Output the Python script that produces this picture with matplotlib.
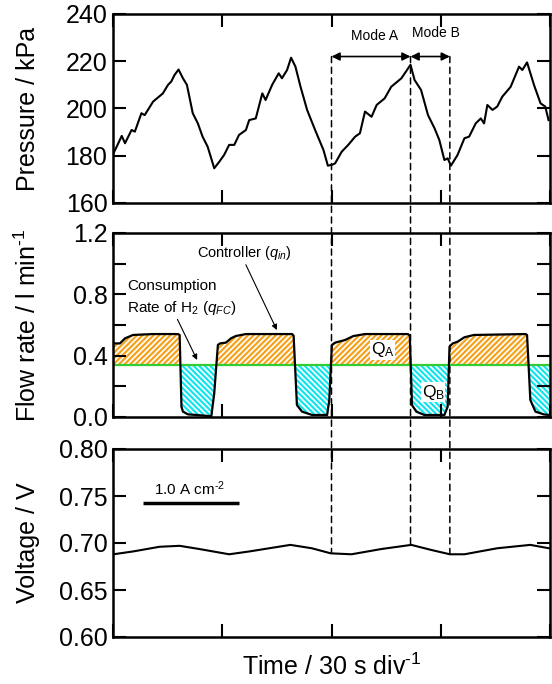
import numpy as np
import matplotlib.pyplot as plt
from matplotlib.patches import ConnectionPatch
from matplotlib.ticker import MultipleLocator, FormatStrFormatter

plt.rcParams['font.family'] = ['Liberation Sans', 'DejaVu Sans']
plt.rcParams['mathtext.fontset'] = 'custom'
plt.rcParams['mathtext.rm'] = 'Liberation Sans'
plt.rcParams['mathtext.it'] = 'Liberation Sans:italic'
plt.rcParams['hatch.linewidth'] = 1.6

# pressure (kPa) vs time (s)
t_pressure = [0.1, 1.0, 2.4, 3.3, 5.1, 6.0, 7.8, 8.7, 11.0, 13.7, 15.1, 16.0, 16.9, 18.0,
              19.2, 20.3, 21.9, 23.3, 24.6, 26.0, 27.8, 29.2, 30.5, 31.9, 33.3, 34.6,
              36.5, 37.4, 39.2, 41.0, 41.9, 43.7, 45.5, 46.4, 47.8, 48.9, 50.1, 51.5,
              53.3, 55.5, 57.8, 59.0, 60.2, 61.0, 62.8, 64.6, 66.5, 67.8, 69.2, 71.0,
              72.4, 74.6, 76.4, 79.2, 81.7, 82.8, 84.6, 86.5, 88.3, 89.6, 91.0, 91.9,
              92.8, 94.6, 96.5, 97.8, 99.6, 101.0, 101.9, 102.8, 104.2, 105.5, 106.9,
              109.2, 111.5, 112.4, 113.7, 115.6, 117.4, 118.7, 119.6]
pressure = [181, 183.8, 188.4, 185.3, 190.9, 190.2, 198, 197.2, 202.9, 206.4, 210, 211.4,
            214.2, 216.5, 212.8, 210, 198, 193.7, 188.1, 183.8, 174.7, 177.5, 180.3,
            184.6, 184.6, 188.8, 190.9, 195.1, 195.8, 206.4, 203.6, 210, 214.9, 212.8,
            216.3, 221.5, 217.7, 209.2, 199.4, 190.9, 182.4, 175.8, 176.2, 176.8, 181.7,
            184.6, 188.1, 189.5, 198.7, 196.5, 201.5, 204.3, 209.2, 212.8, 218.5, 212.1,
            207.8, 197.2, 191.6, 186.7, 178.2, 178.9, 175.8, 180.3, 187.4, 188.1, 193.7,
            195.8, 193.7, 201.5, 199.4, 200.8, 205, 209.2, 217.7, 216.3, 219.5, 210,
            202.2, 200.8, 195.1]

# controller flow rate q_in (l/min)
t_flow = [0.1, 1.9, 3.3, 5.5, 11, 17.8, 18.3, 18.8, 19.2, 20.6, 22.9, 27.0, 27.8, 28.8,
          29.4, 31.0, 32.4, 33.7, 36.5, 49.2, 49.6, 50.5, 51.9, 54.7, 58.8, 59.4, 60.1,
          61.0, 63.7, 66.0, 69.2, 81.0, 81.5, 82.1, 83.3, 85.5, 91.0, 91.9, 92.4, 93.3,
          94.6, 96.5, 99.1, 113.3, 113.7, 114.6, 116.0, 118.3, 119.7]
flow_in = [0.48, 0.48, 0.513, 0.535, 0.541, 0.541, 0.535, 0.067, 0.035, 0.017, 0.013,
           0.005, 0.154, 0.47, 0.48, 0.485, 0.513, 0.528, 0.541, 0.541, 0.53, 0.078,
           0.035, 0.013, 0.013, 0.111, 0.47, 0.485, 0.502, 0.528, 0.541, 0.541, 0.53,
           0.078, 0.035, 0.013, 0.013, 0.067, 0.459, 0.48, 0.491, 0.52, 0.535, 0.541,
           0.535, 0.111, 0.035, 0.017, 0.013]
q_fc = 0.339  # consumption rate of H2

# cell voltage (V)
t_volt = [0.1, 5.5, 12.8, 18.3, 23.7, 31.9, 37.4, 48.7, 54.6, 59.8, 65.5, 73.7, 81.9,
          87.4, 92.5, 96.5, 105.5, 114.6, 119.7]
voltage = [0.688, 0.691, 0.696, 0.697, 0.6936, 0.688, 0.691, 0.698, 0.6944, 0.689, 0.688,
           0.6936, 0.698, 0.6926, 0.688, 0.688, 0.6944, 0.698, 0.6944]

# mode boundaries (s)
mode_times = [60, 81.7, 92.5]

orange = '#F5A21E'
cyan = '#14E4EE'
green = '#33CC33'

fig = plt.figure(figsize=(5.52, 6.84), dpi=100)
W, H = 552, 684
def box(x0, y0, x1, y1):
    return [x0 / W, 1 - y1 / H, (x1 - x0) / W, (y1 - y0) / H]

ax1 = fig.add_axes(box(113, 14, 550, 203))
ax2 = fig.add_axes(box(113, 233, 550, 417))
ax3 = fig.add_axes(box(113, 449, 550, 637))

for ax in (ax1, ax2, ax3):
    ax.set_xlim(0, 120)
    ax.xaxis.set_major_locator(MultipleLocator(30))
    ax.tick_params(which='both', direction='in', top=True, right=True, length=9.5,
                   width=1.5, labelsize=18, pad=4, labelbottom=False)
    for s in ax.spines.values():
        s.set_linewidth(1.8)

# pressure
ax1.plot(t_pressure, pressure, color='black', lw=1.5)
ax1.set_ylim(160, 240)
ax1.yaxis.set_major_locator(MultipleLocator(20))

ax1.annotate('', xy=(mode_times[1], 222), xytext=(mode_times[0], 222),
             arrowprops=dict(arrowstyle='<|-|>', lw=1.2, color='black',
                             mutation_scale=12, shrinkA=0, shrinkB=0))
ax1.annotate('', xy=(mode_times[2], 222), xytext=(mode_times[1], 222),
             arrowprops=dict(arrowstyle='<|-|>', lw=1.2, color='black',
                             mutation_scale=12, shrinkA=0, shrinkB=0))
ax1.text(71.8, 230.5, 'Mode A', ha='center', va='center', fontsize=10)
ax1.text(88.8, 232, 'Mode B', ha='center', va='center', fontsize=10)

# flow rate
tf = np.array(t_flow)
qf = np.array(flow_in)
ax2.fill_between(tf, qf, q_fc, where=qf >= q_fc, interpolate=True,
                 facecolor='white', edgecolor=orange, hatch='//////', linewidth=0)
ax2.fill_between(tf, qf, q_fc, where=qf <= q_fc, interpolate=True,
                 facecolor='white', edgecolor=cyan, hatch='\\\\\\\\\\\\', linewidth=0)
ax2.axhline(q_fc, color=green, lw=1.6)
ax2.plot(tf, qf, color='black', lw=1.6)
ax2.set_ylim(0, 1.2)
ax2.yaxis.set_major_locator(MultipleLocator(0.4))
ax2.yaxis.set_minor_locator(MultipleLocator(0.2))
ax2.yaxis.set_major_formatter(FormatStrFormatter('%.1f'))

ax2.annotate('Controller ($q_{in}$)', xy=(45.0, 0.567), xytext=(23.1, 1.07),
             fontsize=10.5, ha='left', va='center',
             arrowprops=dict(arrowstyle='-|>', lw=0.8, color='black',
                             mutation_scale=8, shrinkA=0, shrinkB=0,
                             relpos=(0.5, 0)))
ax2.annotate('Consumption\nRate of H$_2$ ($q_{FC}$)', xy=(23.1, 0.372), xytext=(3.8, 0.776),
             fontsize=11, ha='left', va='center', linespacing=1.4,
             arrowprops=dict(arrowstyle='-|>', lw=0.8, color='black',
                             mutation_scale=8, shrinkA=0, shrinkB=0,
                             relpos=(0.45, 0)))
ax2.text(74.1, 0.437, 'Q$_\\mathregular{A}$', ha='center', va='center', fontsize=12.5,
         bbox=dict(facecolor='white', edgecolor='none', pad=0.5))
ax2.text(87.9, 0.163, 'Q$_\\mathregular{B}$', ha='center', va='center', fontsize=12.5,
         bbox=dict(facecolor='white', edgecolor='none', pad=0.5))

# voltage
ax3.plot(t_volt, voltage, color='black', lw=1.5)
ax3.set_ylim(0.60, 0.80)
ax3.yaxis.set_major_locator(MultipleLocator(0.05))
ax3.yaxis.set_major_formatter(FormatStrFormatter('%.2f'))
ax3.plot([8.2, 34.6], [0.7426, 0.7426], color='black', lw=2.5, solid_capstyle='butt')
ax3.text(21.1, 0.7475, '1.0 A cm$^{\\text{-2}}$', ha='center', va='bottom', fontsize=11)

# dashed mode boundaries spanning the panels
for tm in mode_times:
    vm = np.interp(tm, t_volt, voltage)
    con = ConnectionPatch(xyA=(tm, 222), coordsA=ax1.transData,
                          xyB=(tm, vm), coordsB=ax3.transData,
                          color='black', lw=1.1, linestyle=(0, (4, 3)))
    fig.add_artist(con)

fig.text(28 / W, 1 - 108.5 / H, 'Pressure / kPa', rotation=90, ha='center', va='center', fontsize=18)
fig.text(28 / W, 1 - 325 / H, 'Flow rate / l min$^{\\text{-1}}$', rotation=90, ha='center', va='center', fontsize=18)
fig.text(28 / W, 1 - 543 / H, 'Voltage / V', rotation=90, ha='center', va='center', fontsize=18)
fig.text(331.5 / W, 1 - 667 / H, 'Time / 30 s div$^{\\text{-1}}$', ha='center', va='center', fontsize=18)

fig.savefig('out.png', dpi=100)
